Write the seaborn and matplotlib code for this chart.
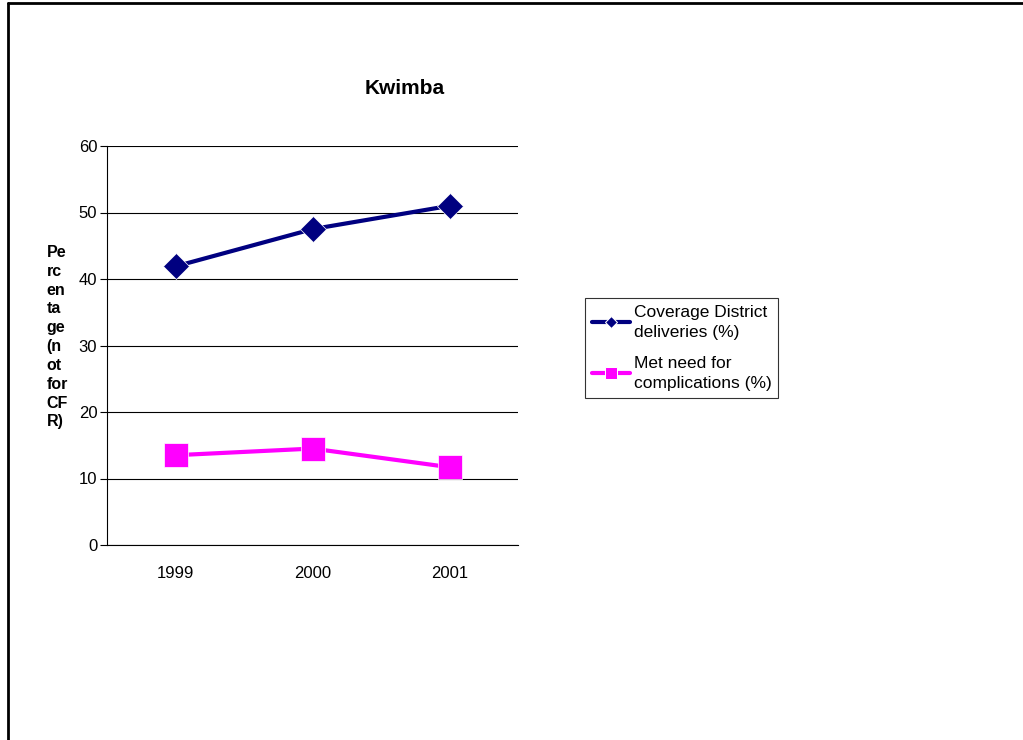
import numpy as np
import pandas as pd
import seaborn as sns
import matplotlib.pyplot as plt
from matplotlib.lines import Line2D

# données
annees = ["1999", "2000", "2001"]
couverture = [41.9, 47.5, 51.0]
besoins = [13.5, 14.5, 11.7]
series = ["Coverage District\ndeliveries (%)", "Met need for\ncomplications (%)"]
couleurs = ["#000080", "#FF00FF"]

df = pd.DataFrame({
    "annee": annees * 2,
    "x": list(range(len(annees))) * 2,
    "valeur": couverture + besoins,
    "serie": [series[0]] * 3 + [series[1]] * 3,
})

sns.set_style("white")
plt.rcParams["font.family"] = ["Liberation Sans", "DejaVu Sans"]
plt.rcParams["text.color"] = "black"
plt.rcParams["axes.labelcolor"] = "black"
plt.rcParams["xtick.color"] = "black"
plt.rcParams["ytick.color"] = "black"

fig = plt.figure(figsize=(10.23, 7.4), dpi=100)
ax = fig.add_axes([107 / 1023, 1 - 545 / 740, 411 / 1023, 399 / 740])

sns.lineplot(data=df, x="x", y="valeur", hue="serie", style="serie",
             palette=couleurs, markers=["D", "s"], dashes=False,
             markersize=12, linewidth=3.0, ax=ax, legend=True)
# le carré rose est plus gros
for ligne, ms in zip(ax.get_lines()[:2], [13, 17]):
    ligne.set_markersize(ms)
    ligne.set_markeredgewidth(0.5)

ax.set_xlim(-0.5, 2.5)
ax.set_ylim(0, 60)
ax.set_yticks(range(0, 61, 10))
ax.set_xticks(range(3))
ax.set_xticklabels(annees)
ax.set_xticks([-0.5, 0.5, 1.5, 2.5], minor=True)
ax.tick_params(axis="x", which="major", length=0, pad=15, labelsize=12)
ax.tick_params(axis="x", which="minor", length=5, width=0.8, direction="out", color="black")
ax.tick_params(axis="y", length=5, width=0.8, direction="out", color="black", labelsize=12, pad=2)
ax.tick_params(axis="both", bottom=True, left=True)
ax.yaxis.grid(True, color="black", linewidth=0.8)
ax.set_axisbelow(True)
for cote in ["top", "right"]:
    ax.spines[cote].set_visible(False)
for cote in ["left", "bottom"]:
    ax.spines[cote].set_color("black")
    ax.spines[cote].set_linewidth(0.8)

ax.set_xlabel("")
ax.set_ylabel("Pe\nrc\nen\nta\nge\n(n\not\nfor\nCF\nR)", rotation=0,
              fontsize=11.5, fontweight="bold", ha="left", va="center",
              multialignment="left", linespacing=1.32)
ax.yaxis.set_label_coords(-0.147, 0.521)

# titre centré sur la zone du graphique entier
fig.text(405 / 1023, 1 - 88 / 740, "Kwimba", fontsize=15, fontweight="bold",
         ha="center", va="center")

# légende
poignees, etiquettes = ax.get_legend_handles_labels()
leg = ax.legend(poignees, etiquettes, loc="upper left",
                bbox_to_anchor=(585 / 1023, 1 - 298 / 740), bbox_transform=fig.transFigure,
                fontsize=12.5, frameon=True, fancybox=False, edgecolor="black",
                handlelength=2.2, handletextpad=0.2, borderpad=0.4,
                labelspacing=0.95, borderaxespad=0)
leg.get_frame().set_linewidth(0.8)
for t in leg.get_texts():
    t.set_linespacing(1.38)
for ligne, ms in zip(leg.get_lines(), [6, 9]):
    ligne.set_markersize(ms)
    ligne.set_linewidth(3)

# cadre de la figure (haut et gauche)
fig.add_artist(Line2D([7.5 / 1023, 1], [1 - 2.5 / 740, 1 - 2.5 / 740], color="black",
                      linewidth=2, transform=fig.transFigure))
fig.add_artist(Line2D([7.5 / 1023, 7.5 / 1023], [0, 1 - 2.5 / 740], color="black",
                      linewidth=2, transform=fig.transFigure))

fig.savefig("out.png", dpi=100, facecolor="white")
